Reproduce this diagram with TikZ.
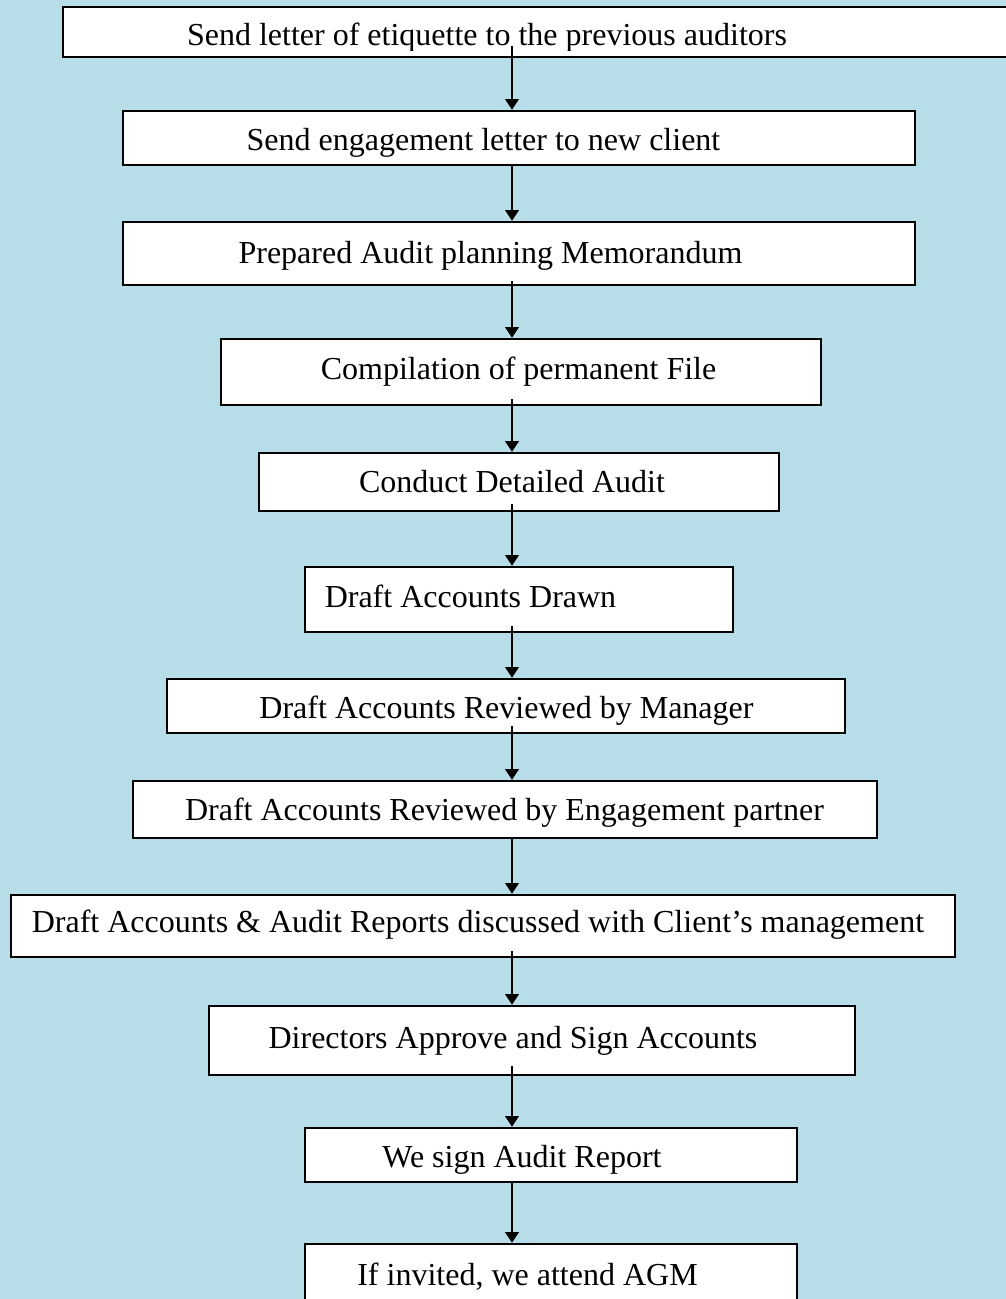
\documentclass[tikz,border=0pt]{standalone}
\usepackage{fontspec}
\setmainfont{Liberation Serif}
\usetikzlibrary{arrows.meta}
\definecolor{bgblue}{RGB}{183,221,232}
\begin{document}
\begin{tikzpicture}[x=0.75pt,y=-0.75pt,
  stepbox/.style 2 args={draw=black, line width=1.8pt, fill=white, inner sep=0pt,
    minimum width=#1*0.75pt, minimum height=#2*0.75pt},
  lbl/.style={anchor=base, inner sep=0pt, font=\fontsize{24}{28}\selectfont},
  flow/.style={line width=1.8pt, -{Triangle[length=8pt,width=10pt]}}]

% page frame and background
\clip (0,0) rectangle (1006,1299);
\fill[bgblue] (0,0) rectangle (1006,1299);
\useasboundingbox (0,0) rectangle (1006,1299);

% vertical line along which the arrows run
\coordinate (spine) at (512,0);

% process boxes
\node[stepbox={947}{50}] (b1) at (536.5,32) {};
\node[stepbox={792}{54}] (b2) at (519,138) {};
\node[stepbox={792}{63}] (b3) at (519,253.5) {};
\node[stepbox={600}{66}] (b4) at (521,372) {};
\node[stepbox={520}{58}] (b5) at (519,482) {};
\node[stepbox={428}{65}] (b6) at (519,599.5) {};
\node[stepbox={678}{54}] (b7) at (506,706) {};
\node[stepbox={744}{57}] (b8) at (505,809.5) {};
\node[stepbox={944}{62}] (b9) at (483,926) {};
\node[stepbox={646}{69}] (b10) at (532,1040.5) {};
\node[stepbox={492}{54}] (b11) at (551,1155) {};
\node[stepbox={492}{66}] (b12) at (551,1277) {};

% box texts
\begin{scope}
  \clip (64,8) rectangle (1006,50);
  \node[lbl] (t1) at (487,45) {Send letter of etiquette to the previous auditors};
\end{scope}
\node[lbl] (t2) at (483.5,150) {Send engagement letter to new client};
\node[lbl] (t3) at (490.5,263) {Prepared Audit planning Memorandum};
\node[lbl] (t4) at (518.5,379) {Compilation of permanent File};
\node[lbl] (t5) at (512,492) {Conduct Detailed Audit};
\node[lbl] (t6) at (470.5,607) {Draft Accounts Drawn};
\node[lbl] (t7) at (506.5,718) {Draft Accounts Reviewed by Manager};
\node[lbl] (t8) at (504.5,820) {Draft Accounts Reviewed by Engagement partner};
\node[lbl] (t9) at (478,932) {Draft Accounts \& Audit Reports discussed with Client’s management};
\node[lbl] (t10) at (513,1048) {Directors Approve and Sign Accounts};
\node[lbl] (t11) at (522,1167) {We sign Audit Report};
\node[lbl] (t12) at (527.5,1285) {If invited, we attend AGM};

% connectors
\draw[flow] ([yshift=9pt]b1.south -| spine) -- (b2.north -| spine);
\draw[flow] (b2.south -| spine) -- (b3.north -| spine);
\draw[flow] ([yshift=3.75pt]b3.south -| spine) -- (b4.north -| spine);
\draw[flow] ([yshift=5.25pt]b4.south -| spine) -- (b5.north -| spine);
\draw[flow] ([yshift=6pt]b5.south -| spine) -- (b6.north -| spine);
\draw[flow] ([yshift=5.25pt]b6.south -| spine) -- (b7.north -| spine);
\draw[flow] ([yshift=6pt]b7.south -| spine) -- (b8.north -| spine);
\draw[flow] (b8.south -| spine) -- (b9.north -| spine);
\draw[flow] ([yshift=5.25pt]b9.south -| spine) -- (b10.north -| spine);
\draw[flow] ([yshift=7.5pt]b10.south -| spine) -- (b11.north -| spine);
\draw[flow] (b11.south -| spine) -- (b12.north -| spine);
\end{tikzpicture}
\end{document}
